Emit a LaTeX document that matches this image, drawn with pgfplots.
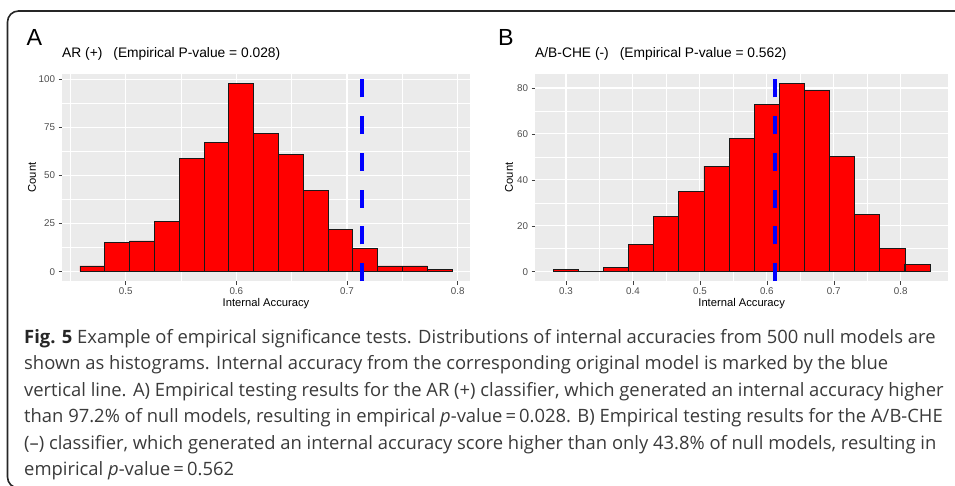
\documentclass[border=0pt]{standalone}
\usepackage{fontspec}
\setmainfont{Liberation Sans}
\newfontfamily\capfont{Open Sans}
\usepackage{pgfplots}
\pgfplotsset{compat=1.18}
\definecolor{ggbg}{HTML}{EBEBEB}
\definecolor{ggtick}{HTML}{4D4D4D}
\definecolor{capgray}{HTML}{3A3A3A}
\pgfplotsset{ggstyle/.style={
  scale only axis,
  axis background/.style={fill=ggbg},
  axis line style={draw=none},
  xmajorgrids, ymajorgrids, xminorgrids, yminorgrids,
  major grid style={white, line width=1.1pt},
  minor grid style={white, line width=0.55pt},
  tick align=outside,
  tick pos=left,
  major tick length=3.5pt,
  minor tick length=0pt,
  major tick style={color=black!75, line width=0.5pt},
  ticklabel style={font=\fontsize{9.8}{11}\selectfont, color=ggtick},
  /pgf/number format/assume math mode=true,
  label style={font=\fontsize{11.2}{13}\selectfont},
  title style={font=\fontsize{13.8}{16}\selectfont},
  enlargelimits=false,
}}
\begin{document}
\begin{tikzpicture}[x=1pt,y=1pt]
\path[use as bounding box] (0,0) rectangle (955,485);
\draw[line width=1.6pt, rounded corners=11pt, black!85] (7.5,474) rectangle (980,-3);

\node[anchor=base west, inner sep=0pt, font=\fontsize{23.3}{26}\selectfont] at (26.5,439) {A};
\node[anchor=base west, inner sep=0pt, font=\fontsize{23.3}{26}\selectfont] at (498,439) {B};

\begin{axis}[ggstyle,
  at={(62pt,204pt)}, anchor=south west, width=408pt, height=207pt,
  xmin=0.4425, xmax=0.8111, ymin=-4.83, ymax=102.75,
  xtick={0.5,0.6,0.7,0.8}, ytick={0,25,50,75,100},
  minor xtick={0.45,0.55,0.65,0.75}, minor ytick={12.5,37.5,62.5,87.5},
  xlabel={Internal Accuracy}, ylabel={Count},
  xlabel style={at={(axis description cs:0.5,0)}, anchor=base, yshift=-25pt},
  ylabel style={at={(axis description cs:-0.0735,0.5)}, anchor=center},
  title={AR (+)\hspace{11pt}(Empirical P-value = 0.028)},
  title style={at={(axis description cs:0,1)}, anchor=base west, inner sep=0pt, yshift=10pt},
]
\addplot[ybar, bar width=0.02241, bar shift=0pt, fill=red, draw=black!90, line width=0.8pt] coordinates {
(0.4699,3) (0.4923,15) (0.5147,16) (0.5371,26) (0.5596,59) (0.5820,67) (0.6044,98) (0.6268,72)
(0.6492,61) (0.6716,42) (0.6940,22) (0.7165,12) (0.7389,3) (0.7613,3) (0.7837,1)};
\addplot[color=blue, line width=4.4pt, dash pattern=on 18pt off 18.7pt] coordinates {(0.7137,-4.83) (0.7137,102.75)};
\end{axis}

\begin{axis}[ggstyle,
  at={(535pt,204pt)}, anchor=south west, width=413.3pt, height=207pt,
  xmin=0.2537, xmax=0.8711, ymin=-4.05, ymax=86.1,
  xtick={0.3,0.4,0.5,0.6,0.7,0.8}, ytick={0,20,40,60,80},
  minor xtick={0.35,0.45,0.55,0.65,0.75}, minor ytick={10,30,50,70},
  xlabel={Internal Accuracy}, ylabel={Count},
  xlabel style={at={(axis description cs:0.5,0)}, anchor=base, yshift=-25pt},
  ylabel style={at={(axis description cs:-0.0629,0.5)}, anchor=center},
  title={A/B-CHE (-)\hspace{11pt}(Empirical P-value = 0.562)},
  title style={at={(axis description cs:0,1)}, anchor=base west, inner sep=0pt, yshift=10pt},
]
\addplot[ybar, bar width=0.03752, bar shift=0pt, fill=red, draw=black!90, line width=0.8pt] coordinates {
(0.2998,1) (0.3373,0) (0.3748,2) (0.4123,12) (0.4498,24) (0.4874,35) (0.5249,46) (0.5624,58)
(0.5999,73) (0.6374,82) (0.6750,79) (0.7125,50) (0.7500,25) (0.7875,10) (0.8250,3)};
\addplot[color=blue, line width=4.6pt, dash pattern=on 18pt off 18.7pt] coordinates {(0.6124,-4.05) (0.6124,86.1)};
\end{axis}

\begin{scope}[every node/.style={anchor=base west, inner sep=0pt, text=capgray, font=\capfont\fontsize{18.4}{22}\selectfont}]
\node at (24,141.7) {{\bfseries\color{black!85}Fig. 5} Example of empirical significance tests. Distributions of internal accuracies from 500 null models are};
\node at (24,115.2) {shown as histograms. Internal accuracy from the corresponding original model is marked by the blue};
\node at (24,88.7) {vertical line. A) Empirical testing results for the AR (+) classifier, which generated an internal accuracy higher};
\node at (24,62.2) {than 97.2\% of null models, resulting in empirical \textit{p}-value\,=\,0.028. B) Empirical testing results for the A/B-CHE};
\node at (24,35.7) {(–) classifier, which generated an internal accuracy score higher than only 43.8\% of null models, resulting in};
\node at (24,9.2) {empirical \textit{p}-value\,=\,0.562};
\end{scope}
\end{tikzpicture}
\end{document}
